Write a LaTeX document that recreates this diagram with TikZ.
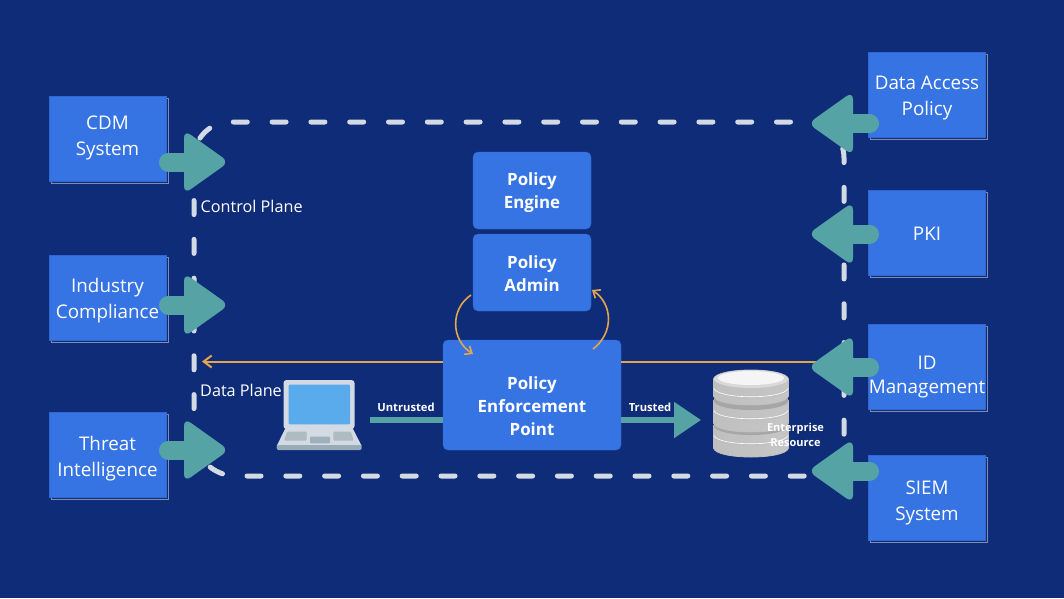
\documentclass[tikz,border=0pt]{standalone}
\usepackage{fontspec}
\setmainfont{Open Sans}
\usetikzlibrary{arrows.meta,shadows}
\definecolor{pagebg}{HTML}{0F2C79}
\definecolor{boxblue}{HTML}{3674E4}
\definecolor{boxedge}{HTML}{2F68D2}
\definecolor{shadowline}{HTML}{7F8DB0}
\definecolor{tealarrow}{HTML}{55A3A5}
\definecolor{planegray}{HTML}{D3DAE3}
\definecolor{flowgold}{HTML}{E3A64B}
\definecolor{screenblue}{HTML}{5AABEC}
\definecolor{laptopedge}{HTML}{99ABB5}
\definecolor{laptopkeys}{HTML}{AEBCC2}
\definecolor{laptoppad}{HTML}{9DB0BC}
\tikzset{
  srcbox/.style   = {draw=boxedge, fill=boxblue, minimum width=117pt, minimum height=85pt,
                     inner sep=0pt, copy shadow={shadow xshift=2pt, shadow yshift=-2pt, draw=shadowline, fill=none, line width=.8pt}},
  policybox/.style = {draw=boxedge, fill=boxblue, rounded corners=5pt, inner sep=0pt},
  srctext/.style  = {text=white, align=center, inner sep=0pt, font=\fontsize{18.8}{26}\selectfont},
  policytext/.style = {text=white, align=center, inner sep=0pt, font=\bfseries\fontsize{16.9}{23}\selectfont},
  smalllabel/.style = {text=white, inner sep=0pt, font=\bfseries\fontsize{11.2}{15}\selectfont},
  planelabel/.style = {text=white, inner sep=0pt, anchor=west, font=\fontsize{16.2}{20}\selectfont},
  planeline/.style = {draw=planegray, line width=5pt, line cap=round, dash pattern=on 14pt off 24.8pt},
  flowline/.style = {draw=flowgold, line width=2pt},
  cycleline/.style = {draw=flowgold, line width=1.6pt, -{Straight Barb[length=6pt,width=10pt]}},
  tailline/.style = {draw=tealarrow, line width=19pt, line cap=round},
  headfill/.style = {fill=tealarrow, rounded corners=8pt}
}
% one disc of the resource stack: centre of top face, height of side
\newcommand{\dbdisc}[2]{
  \shade[left color=gray!50, middle color=gray!8, right color=gray!45, draw=gray!50, line width=.8pt]
    (713.5,#1) -- (713.5,#1+#2) .. controls (716,#1+#2+12) and (786,#1+#2+12) .. (788.5,#1+#2)
    -- (788.5,#1) .. controls (786,#1-12) and (716,#1-12) .. cycle;
  \draw[gray!50, line width=.5pt] (714,#1+11) .. controls (718,#1+22) and (784,#1+22) .. (788,#1+11);
  \draw[white, line width=.6pt] (714,#1+9.5) .. controls (718,#1+20.5) and (784,#1+20.5) .. (788,#1+9.5);
}
\begin{document}
\begin{tikzpicture}[x=1pt, y=-1pt, >=latex]
\fill[pagebg] (0,0) rectangle (1064,598);
\useasboundingbox (0,0) rectangle (1064,598);

% control plane and data plane loop
\coordinate (topstart) at (790.5,122);
\coordinate (topleft) at (194,122);
\coordinate (botleft) at (194,476);
\coordinate (botend) at (805,476);
\coordinate (rightstart) at (808,122);
\coordinate (topright) at (844,122);
\coordinate (rightend) at (844,471);
\draw[planeline, rounded corners=36pt] (topstart) -- (topleft) [rounded corners=42pt] -- (botleft) -- (botend);
\draw[planeline, dash phase=30.5pt, rounded corners=36pt] (rightstart) -- (topright) -- (rightend);

% the boxes
\node[srcbox] (cdm) at (107.5,138.5) {};
\node[srcbox] (industry) at (107.5,297.5) {};
\node[srcbox] (threat) at (107.5,454.5) {};
\node[srcbox] (access) at (926.5,95) {};
\node[srcbox] (pki) at (926.5,232.5) {};
\node[srcbox] (idm) at (926.5,367) {};
\node[srcbox] (siem) at (926.5,498) {};

\node[policybox, minimum width=118pt, minimum height=77pt] (engine) at (532,190.5) {};
\node[policybox, minimum width=118pt, minimum height=77pt] (admin) at (532,272.5) {};
\node[policybox, minimum width=178pt, minimum height=110pt] (pep) at (532,395) {};

\coordinate (datatip) at (202,361.5);
\coordinate (idtip) at (830,361.5);
\draw[flowline, -{Straight Barb[length=8pt,width=12pt]}] (pep.west |- datatip) -- (datatip);
\draw[flowline] (pep.east |- idtip) -- (idtip);

% block arrows
\foreach \yy in {162,305,450}{
  \draw[tailline] (168.5,\yy) -- (192,\yy);
  \fill[headfill] (184,\yy-32) -- (229,\yy) -- (184,\yy+32) -- cycle;
}
\foreach \yy in {123.5,234,367,471}{
  \draw[tailline] (869.5,\yy) -- (846,\yy);
  \fill[headfill] (853,\yy-32) -- (808,\yy) -- (853,\yy+32) -- cycle;
}

% the laptop
\fill[planegray, rounded corners=3pt] (283.5,380) rectangle (354.5,429);
\fill[screenblue, rounded corners=1pt] (288.7,384.7) rectangle (350,424.3);
\fill[planegray] (285.5,428) -- (352.5,428) -- (361.7,446) -- (276.7,446) -- cycle;
\fill[laptopedge, rounded corners=2pt] (276.7,445) -- (361.7,445) -- (361.7,450) -- (276.7,450) -- cycle;
\fill[laptopkeys, rounded corners=1pt] (287,431.7) -- (306.7,431.7) -- (306.7,440.7) -- (284,440.7) -- cycle;
\fill[laptopkeys, rounded corners=1pt] (333.3,431.7) -- (351,431.7) -- (353.6,440.7) -- (333.3,440.7) -- cycle;
\fill[laptoppad, rounded corners=1pt] (310,436.7) rectangle (330,443.3);

% the resource stack
\dbdisc{426}{22}
\fill[gray!70] (751,426) ellipse [x radius=37, y radius=9];
\dbdisc{401}{22}
\fill[gray!70] (751,401) ellipse [x radius=37, y radius=9];
\dbdisc{379}{17}
\fill[gray!30] (751,379) ellipse [x radius=37, y radius=9];
\fill[gray!8] (751,378) ellipse [x radius=33, y radius=7];

% untrusted and trusted flow
\coordinate (laptopend) at (370,420);
\coordinate (stacktip) at (701,420);
\draw[draw=tealarrow, line width=5.5pt] (laptopend) -- (pep.west |- laptopend);
\draw[draw=tealarrow, line width=5.5pt, -{Triangle[length=27pt,width=35pt]}] (pep.east |- stacktip) -- (stacktip);

% policy cycle
\coordinate (pepin) at (473,354);
\coordinate (pepout) at (593,349);
\coordinate (adminin) at (592,290);
\coordinate (adminout) at (471,295);
\draw[cycleline] (adminout) .. controls (450,309) and (451,340) .. (pepin);
\draw[cycleline] (pepout) .. controls (614,333) and (613,304) .. (adminin);

% texts
\node[srctext] (cdmtext) at (107.5,137.5) {CDM\\System};
\node[srctext] (industrytext) at (107.5,301) {Industry\\Compliance};
\node[srctext] (threattext) at (107.5,458.5) {Threat\\Intelligence};
\node[srctext] (accesstext) at (927,98.5) {Data Access\\Policy};
\node[srctext] (pkitext) at (927,234) {PKI};
\node[srctext] (idmtext) at (927,377) {ID\\[-2pt]Management};
\node[srctext] (siemtext) at (927,503) {SIEM\\System};

\node[policytext] (enginetext) at (532,193) {Policy\\Engine};
\node[policytext] (admintext) at (532,273.5) {Policy\\Admin};
\node[policytext] (peptext) at (532,406) {Policy\\Enforcement\\Point};

\node[planelabel] (controlplane) at (200.5,206) {Control Plane};
\node[planelabel] (dataplane) at (200,390) {Data Plane};
\node[smalllabel] (untrusted) at (406,407.5) {Untrusted};
\node[smalllabel] (trusted) at (650,407.5) {Trusted};
\node[smalllabel, align=center, font=\bfseries\fontsize{11}{15}\selectfont] (resource) at (795.5,434.5) {Enterprise\\Resource};
\end{tikzpicture}
\end{document}
